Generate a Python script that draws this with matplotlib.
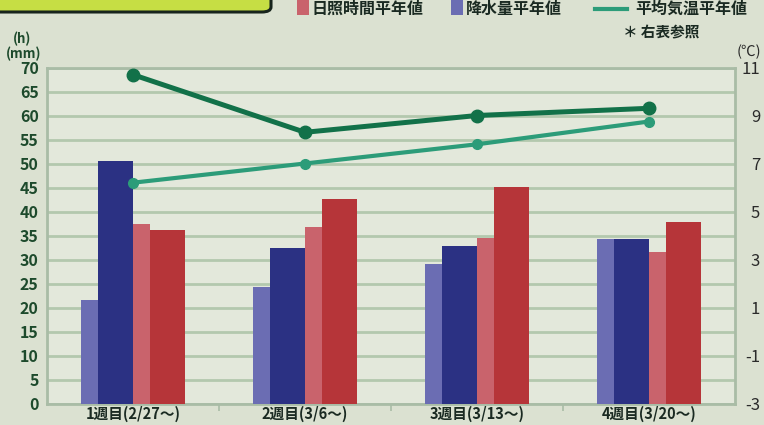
import matplotlib
matplotlib.use("Agg")
import matplotlib.pyplot as plt
from matplotlib.patches import FancyBboxPatch, Rectangle
from matplotlib.lines import Line2D
import numpy as np

# ---- data ----
categories = ["1週目(2/27～)", "2週目(3/6～)", "3週目(3/13～)", "4週目(3/20～)"]
precip_normal = [21.6, 24.2, 29.0, 34.2]      # 降水量平年値 (mm)
precip_this = [50.5, 32.3, 32.8, 34.3]        # 降水量 (mm)
sun_normal = [37.3, 36.8, 34.4, 31.6]         # 日照時間平年値 (h)
sun_this = [36.1, 42.6, 45.2, 37.9]           # 日照時間 (h)
temp_this = [10.7, 8.3, 9.0, 9.3]             # 平均気温 (℃)
temp_normal = [6.2, 7.0, 7.8, 8.75]           # 平均気温平年値 (℃)
left_ticks = list(range(0, 75, 5))
right_ticks = [-3, -1, 1, 3, 5, 7, 9, 11]

# ---- style ----
W, H = 764, 425
plt.rcParams['font.family'] = ['Noto Sans CJK JP', 'DejaVu Sans']
fig = plt.figure(figsize=(W / 100, H / 100), dpi=100)
fig.patch.set_facecolor('#dbe1d1')

def fx(px):
    return px / W

def fy(py):
    return 1 - py / H

ax_l, ax_r, ax_t, ax_b = 47, 735, 67.5, 403.5
ax = fig.add_axes([fx(ax_l), fy(ax_b), fx(ax_r) - fx(ax_l), fy(ax_t) - fy(ax_b)])
ax.set_facecolor('#e3e8db')

x = np.arange(len(categories))
lw_ = 0.099
dw_ = 0.203
c_pn, c_pt, c_sn, c_st = '#6b6db3', '#2b3183', '#c9636c', '#b63539'
ax.bar(x - 0.302, precip_normal, width=lw_, align='edge', color=c_pn, zorder=3)
ax.bar(x - 0.302 + lw_, precip_this, width=dw_, align='edge', color=c_pt, zorder=3)
ax.bar(x, sun_normal, width=lw_, align='edge', color=c_sn, zorder=3)
ax.bar(x + lw_, sun_this, width=dw_, align='edge', color=c_st, zorder=3)

ax.set_xlim(-0.5, len(categories) - 0.5)
ax.set_ylim(0, 70)
ax.set_yticks(left_ticks)
ax.set_yticklabels([str(t) for t in left_ticks], fontsize=11.5, fontweight='bold',
                   color='#1d4a2c')
ax.tick_params(axis='y', length=0, pad=6)
ax.yaxis.grid(True, color='#b3c8ae', linewidth=2.0, zorder=0)
ax.set_axisbelow(True)

ax.set_xticks(x)
ax.set_xticklabels(categories, fontsize=10.5, fontweight='bold', color='#1a2a22')
ax.tick_params(axis='x', length=0, pad=2)
ax.set_xticks(np.arange(0.5, len(categories) - 0.5, 1), minor=True)
ax.tick_params(axis='x', which='minor', length=5, width=1.2, color='#a9bca6', direction='out')

for s in ax.spines.values():
    s.set_color('#a9bca6')
    s.set_linewidth(2)

ax2 = ax.twinx()
ax2.set_ylim(-3, 11)
ax2.set_yticks(right_ticks)
ax2.set_yticklabels([str(t) for t in right_ticks], fontsize=12, color='#2a2a2a')
ax2.tick_params(axis='y', length=0, pad=18)
for lab in ax2.get_yticklabels():
    lab.set_horizontalalignment('right')
for s in ax2.spines.values():
    s.set_visible(False)

ax2.plot(x, temp_normal, color='#2c9c79', linewidth=3.0, marker='o', markersize=7,
         zorder=4, solid_capstyle='round')
ax2.plot(x, temp_this, color='#127149', linewidth=3.6, marker='o', markersize=9,
         zorder=5, solid_capstyle='round')

# unit labels
fig.text(fx(22), fy(39), "(h)", fontsize=9.5, fontweight='bold', color='#1d4a2c',
         ha='center', va='center')
fig.text(fx(24), fy(54), "(mm)", fontsize=9.5, fontweight='bold', color='#1d4a2c',
         ha='center', va='center')
fig.text(fx(749), fy(52), "(℃)", fontsize=10.5, color='#2a2a2a', ha='center', va='center')

# title box (cropped at top)
box = FancyBboxPatch((fx(-10), fy(12)), fx(281), fy(-40) - fy(12),
                     boxstyle="round,pad=0,rounding_size=0.012",
                     transform=fig.transFigure, facecolor='#c6de44',
                     edgecolor='#17241c', linewidth=2.2, clip_on=False)
fig.patches.append(box)

# legend
fig.patches.append(Rectangle((fx(297), fy(15)), fx(12), fy(0) - fy(15),
                             transform=fig.transFigure, facecolor=c_sn, edgecolor='none'))
fig.text(fx(312), fy(8.5), "日照時間平年値", fontsize=11.5, fontweight='bold', color='#1a2a22',
         ha='left', va='center')
fig.patches.append(Rectangle((fx(451), fy(15)), fx(12), fy(0) - fy(15),
                             transform=fig.transFigure, facecolor=c_pn, edgecolor='none'))
fig.text(fx(466), fy(8.5), "降水量平年値", fontsize=11.5, fontweight='bold', color='#1a2a22',
         ha='left', va='center')
fig.lines.append(Line2D([fx(595), fx(627)], [fy(9), fy(9)], transform=fig.transFigure,
                        color='#2c9c79', linewidth=3))
fig.text(fx(635), fy(8.5), "平均気温平年値", fontsize=11.5, fontweight='bold', color='#1a2a22',
         ha='left', va='center')
fig.text(fx(623), fy(32), "＊ 右表参照", fontsize=10.5, fontweight='bold', color='#1a2a22',
         ha='left', va='center')

fig.savefig("out.png", dpi=100, facecolor=fig.get_facecolor())
